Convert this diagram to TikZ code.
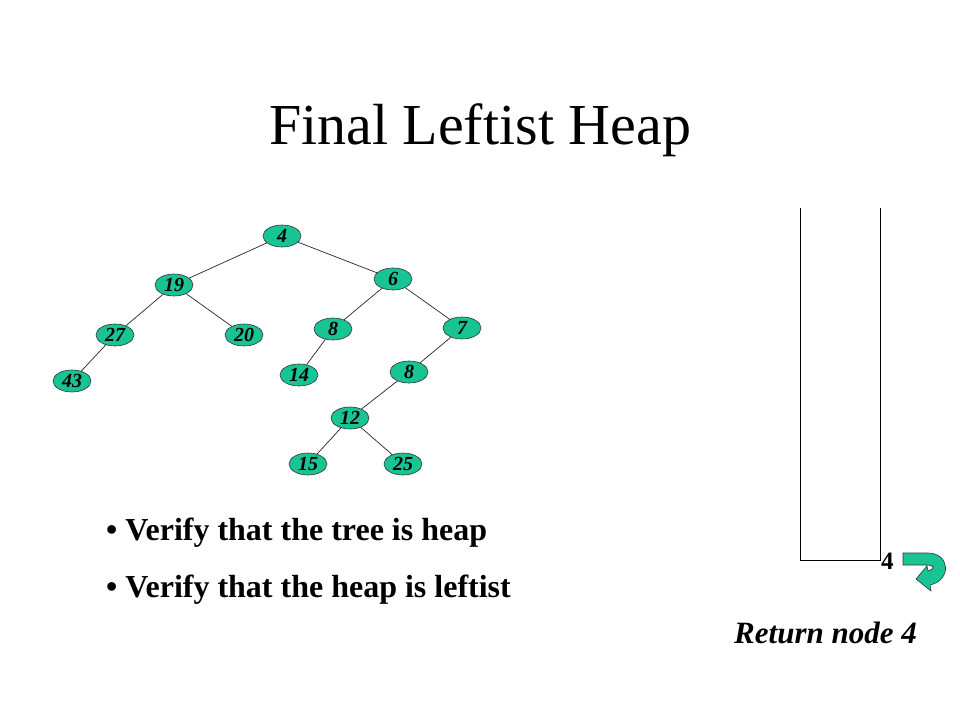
\documentclass[tikz,border=0pt]{standalone}
\usepackage{fontspec}
\setmainfont{Liberation Serif}
\usetikzlibrary{shapes.geometric}
\definecolor{heapgreen}{RGB}{24,196,148}
\begin{document}
\begin{tikzpicture}[x=1pt,y=-1pt,
  hnode/.style={ellipse,draw=black!80,line width=0.6pt,fill=heapgreen,minimum width=38pt,minimum height=22pt,inner sep=0pt,font=\fontsize{20}{20}\selectfont\bfseries\itshape},
  hedge/.style={draw=black!85,line width=0.7pt}]
\useasboundingbox (0,0) rectangle (960,720);
\node (title) at (480,130) {\fontsize{58}{58}\selectfont Final Leftist Heap};
\node[hnode] (n4) at (282,236) {4};
\node[hnode] (n19) at (174,285) {19};
\node[hnode] (n6) at (393,279) {6};
\node[hnode] (n27) at (115,335) {27};
\node[hnode] (n20) at (244,335) {20};
\node[hnode] (n8a) at (333,329) {8};
\node[hnode] (n7) at (462,328) {7};
\node[hnode] (n43) at (72,381) {43};
\node[hnode] (n14) at (299,375) {14};
\node[hnode] (n8b) at (409,372) {8};
\node[hnode] (n12) at (350,418) {12};
\node[hnode] (n15) at (308,464) {15};
\node[hnode] (n25) at (403,464) {25};
\draw[hedge] (n4) -- (n19);
\draw[hedge] (n4) -- (n6);
\draw[hedge] (n19) -- (n27);
\draw[hedge] (n19) -- (n20);
\draw[hedge] (n27) -- (n43);
\draw[hedge] (n6) -- (n8a);
\draw[hedge] (n6) -- (n7);
\draw[hedge] (n8a) -- (n14);
\draw[hedge] (n7) -- (n8b);
\draw[hedge] (n8b) -- (n12);
\draw[hedge] (n12) -- (n15);
\draw[hedge] (n12) -- (n25);
\node[anchor=base west,inner sep=0pt,font=\fontsize{32}{32}\selectfont\bfseries] (b1) at (106,540) {\textbullet\ Verify that the tree is heap};
\node[anchor=base west,inner sep=0pt,font=\fontsize{32}{32}\selectfont\bfseries] (b2) at (106,597) {\textbullet\ Verify that the heap is leftist};
\coordinate (s1) at (800,208);
\coordinate (s2) at (800,560);
\coordinate (s3) at (880,560);
\coordinate (s4) at (880,208);
\draw[line width=0.8pt] (s1) -- (s2) -- (s3) -- (s4);
\node[anchor=base west,inner sep=0pt,font=\fontsize{25}{25}\selectfont\bfseries] (top) at (881,569) {4};
\filldraw[fill=heapgreen,draw=black!80,line width=0.6pt]
  (903,553) -- (928,553) .. controls (950,553) and (952,580) .. (930,585)
  -- (931,591) -- (916,579) -- (927,566) -- (928,571)
  .. controls (936,568) and (934,565) .. (926,565) -- (903,565) -- cycle;
\node[anchor=base east,inner sep=0pt,font=\fontsize{31}{31}\selectfont\bfseries\itshape] (ret) at (917,643) {Return node 4};
\end{tikzpicture}
\end{document}
